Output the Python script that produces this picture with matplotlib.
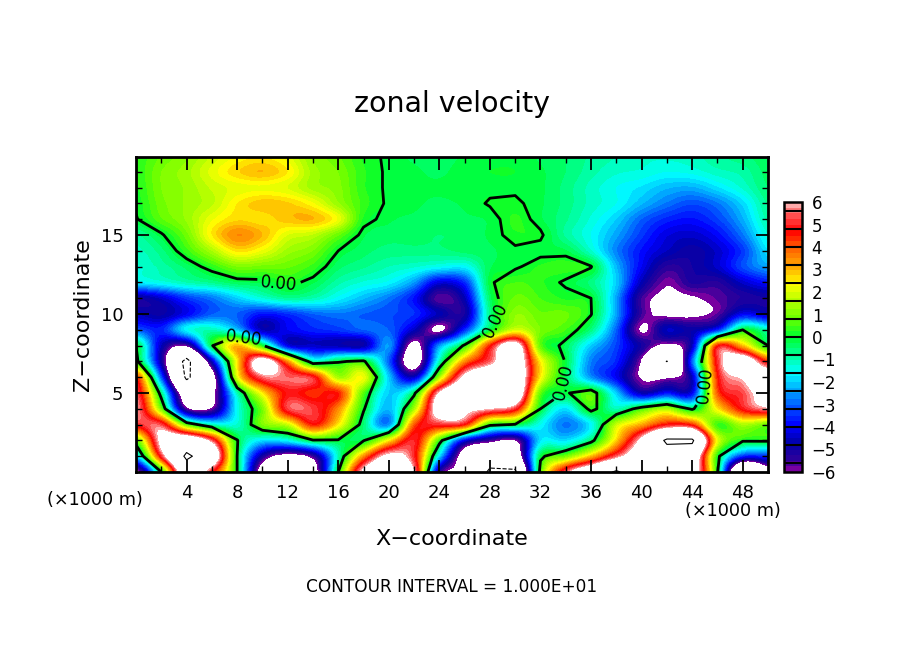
import numpy as np
import matplotlib
matplotlib.use('Agg')
import matplotlib.pyplot as plt
from matplotlib.colors import LinearSegmentedColormap, Normalize

# zonal velocity, one row per km of height (x every 2 km)
x_km = np.arange(0, 51, 2)
z_km = np.arange(0, 21, 1)

z20 = [0.3,0.8,1.2,1.8,2.3,2.5,2.1,1.2,0.8,0.2,-0.1,-0.3,-0.4,-0.2,-0.1,-0.1,-0.3,-0.5,-0.8,-1.0,-1.2,-1.2,-1.1,-0.8,-0.6,-0.3]
z19 = [0.3,1.0,1.4,2.1,2.7,3.0,2.5,1.4,1.0,0.3,-0.1,-0.2,-0.3,-0.1,0.0,0.0,-0.2,-0.5,-0.9,-1.2,-1.3,-1.5,-1.4,-1.1,-0.9,-0.4]
z18 = [0.2,1.0,1.3,1.8,2.1,2.2,2.0,1.4,1.1,0.3,-0.1,-0.2,-0.2,-0.1,-0.1,-0.1,-0.2,-0.6,-1.1,-1.5,-1.8,-2.2,-2.3,-1.8,-1.2,-0.5]
z17 = [0.1,0.9,1.3,1.7,2.5,2.9,2.8,2.3,1.3,0.4,-0.1,-0.2,-0.3,-0.2,0.05,0.1,-0.2,-0.6,-1.1,-1.5,-2.2,-2.8,-3.2,-2.8,-1.9,-0.7]
z16 = [-0.05,0.7,1.3,2.2,2.7,2.6,2.9,3.0,2.2,0.2,-0.2,-0.3,-0.4,-0.3,-0.2,0.3,-0.2,-0.7,-1.3,-2.0,-3.0,-3.6,-3.8,-3.3,-2.3,-0.9]
z15 = [-0.8,-0.1,0.9,2.5,3.5,3.0,2.0,1.7,0.8,-0.2,-0.4,-0.4,-0.5,-0.4,-0.2,0.2,0.1,-0.8,-1.5,-2.4,-3.4,-4.2,-4.4,-3.9,-2.8,-1.3]
z14 = [-1.1,-0.6,0.4,1.5,2.6,2.2,1.4,1.0,0.0,-0.4,-0.6,-0.6,-0.6,-0.4,-0.3,-0.1,-0.2,-0.2,-1.2,-2.7,-3.8,-4.5,-4.9,-4.4,-3.4,-1.8]
z13 = [-1.3,-0.9,-0.4,0.3,1.0,0.9,0.8,0.4,-0.4,-0.7,-1.0,-1.2,-1.5,-1.6,-0.3,-0.1,0.3,0.4,0.05,-2.2,-4.0,-5.3,-5.0,-4.4,-3.2,-2.4]
z12 = [-1.7,-1.4,-1.0,-0.7,-0.3,-0.2,0.2,-0.2,-0.9,-1.3,-1.6,-2.5,-4.2,-3.5,-0.1,0.5,0.3,-0.1,-0.6,-2.0,-4.6,-5.9,-5.2,-5.3,-4.4,-3.8]
z11 = [-5.0,-4.4,-3.4,-2.8,-2.0,-1.3,-0.8,-1.0,-1.6,-2.2,-2.8,-3.8,-5.7,-4.6,-0.4,0.8,0.5,0.2,0.0,-2.4,-5.5,-6.2,-6.1,-5.7,-5.2,-5.0]
z10 = [-4.5,-4.8,-4.0,-3.0,-3.0,-3.8,-3.5,-3.0,-2.8,-3.0,-3.2,-3.5,-4.6,-5.0,-0.6,1.2,0.8,0.8,0.05,-2.4,-5.5,-6.2,-6.2,-5.7,-4.0,-4.5]
z09 = [-3.0,-3.6,-1.6,-1.0,-2.0,-4.5,-4.0,-3.6,-3.4,-3.0,-3.0,-4.5,-6.2,-3.5,-0.1,2.0,1.0,0.5,-0.6,-3.0,-6.1,-4.5,-4.8,-3.5,0.0,-1.0]
z08 = [0.0,-4.5,-5.8,-0.1,3.0,0.2,-4.0,-4.4,-4.6,-4.7,-2.5,-6.5,-2.5,0.2,4.5,7.0,0.8,-0.3,-2.0,-3.3,-5.0,-6.3,-4.5,4.5,3.0,0.0]
z07 = [0.4,-4.8,-11.0,-4.5,2.5,7.0,3.5,-0.8,-0.1,0.2,-3.0,-7.0,-1.0,3.5,5.5,7.5,2.5,-0.1,-2.7,-3.6,-6.1,-10.1,-3.0,5.0,7.5,4.5]
z06 = [4.5,-3.0,-10.5,-7.0,2.0,5.5,5.5,5.0,1.5,2.2,-2.0,-4.4,1.5,6.5,8.0,8.0,2.5,-0.3,-2.5,-4.0,-6.1,-6.2,-4.5,4.5,6.2,7.5]
z05 = [5.5,-0.5,-7.5,-6.5,-1.0,2.5,4.8,4.3,4.5,0.7,-2.0,-0.3,6.2,8.0,8.0,8.0,0.8,-0.1,0.6,-2.0,-4.6,-3.8,-4.0,4.0,5.3,7.0]
z04 = [6.0,1.0,-5.6,-5.8,-1.5,1.0,5.2,5.2,3.5,0.1,-2.2,1.5,7.0,6.5,6.0,5.0,0.0,-1.8,0.3,-1.0,0.5,1.5,-0.2,2.5,4.8,5.8]
z03 = [5.0,5.3,0.8,-1.0,-1.2,1.0,1.8,4.5,2.5,-0.5,-2.5,4.0,5.0,4.6,0.3,-0.1,-1.5,-2.8,-1.6,1.8,3.2,4.8,4.5,0.5,1.5,0.9]
z02 = [0.8,6.5,8.0,5.5,0.05,-1.8,-1.5,-0.1,-0.1,-0.1,2.5,5.0,0.5,-4.0,-5.5,-6.0,-1.8,-1.8,-0.4,2.8,6.5,10.5,10.5,2.2,0.2,0.2]
z01 = [-2.0,5.0,10.6,8.0,0.0,-5.0,-6.5,-5.5,-1.0,3.5,6.5,5.0,-1.8,-7.0,-8.5,-7.5,-0.2,1.0,3.0,5.5,7.5,8.5,8.0,0.3,-3.5,-3.5]
z00 = [-6.5,0.0,8.0,5.0,0.0,-7.0,-8.0,-7.0,0.0,6.5,8.0,6.0,-5.0,-6.5,-10.5,-10.5,0.5,5.5,8.0,10.4,8.0,8.5,7.5,0.1,-10.3,-7.0]

u = np.array([z00,z01,z02,z03,z04,z05,z06,z07,z08,z09,z10,z11,z12,z13,z14,z15,z16,z17,z18,z19,z20])

level_vals = [-6,-5.6,-4.8,-4,-3.2,-2.4,-1.6,-0.8,0,0.8,1.6,2.4,3.2,4,4.8,5.6,6]
level_cols = ['#7800a0','#30009a','#0000aa','#0000ff','#0050ff','#00aaff','#00ffff','#00ff99','#00ff30',
              '#66ff00','#b0ff00','#ffff00','#ffaa00','#ff6400','#ff0000','#ff5a5a','#ffaaaa']
cb_ticks = list(range(-6, 7))
contour_labels = [(11.1,11.2),(8.5,8.35),(27.3,10.0),(33.2,5.7),(45.0,5.5)]

pos = [(v+6)/12 for v in level_vals]
cmap = LinearSegmentedColormap.from_list('ncar_like', list(zip(pos, level_cols)), N=48)
cmap.set_over('white')
cmap.set_under('white')
norm = Normalize(-6, 6)

W, H = 904, 654
fig = plt.figure(figsize=(W/100, H/100), dpi=100, facecolor='white')
ax = fig.add_axes([136/W, (H-472)/H, 632/W, 315/H])

im = ax.imshow(u, origin='lower', extent=[-1,51,-0.5,20.5], cmap=cmap, norm=norm, aspect='auto',
               interpolation='catrom', interpolation_stage='data')
cs0 = ax.contour(x_km, z_km, u, levels=[0], colors='k', linewidths=2)
ax.contour(x_km, z_km, u, levels=[-10,10], colors='k', linewidths=0.8)
ax.clabel(cs0, fmt='%.2f', fontsize=12, manual=contour_labels, inline=True, inline_spacing=3)

ax.set_xlim(0, 50)
ax.set_ylim(0, 19.94)
ax.set_xticks(np.arange(4, 50, 4))
ax.set_xticks(np.arange(2, 50, 2), minor=True)
ax.set_yticks([5, 10, 15])
ax.set_yticks(np.arange(1, 20), minor=True)
ax.tick_params(which='major', direction='in', length=9, width=1.3, top=True, right=True, labelsize=13, pad=9)
ax.tick_params(which='minor', direction='in', length=4, width=1, top=True, right=True)
for s in ax.spines.values():
    s.set_linewidth(2)

fig.text(452/W, 1-104/H, 'zonal velocity', fontsize=20.5, ha='center', va='center')
fig.text(452/W, 1-539/H, 'X\u2212coordinate', fontsize=16, ha='center', va='center')
fig.text(83/W, 1-315/H, 'Z\u2212coordinate', fontsize=16, ha='center', va='center', rotation=90)
fig.text(95/W, 1-500/H, '(\u00d71000 m)', fontsize=12.7, ha='center', va='center')
fig.text(733/W, 1-511/H, '(\u00d71000 m)', fontsize=12.7, ha='center', va='center')
fig.text(452/W, 1-587/H, 'CONTOUR INTERVAL = 1.000E+01', fontsize=12.2, ha='center', va='center')

cax = fig.add_axes([784/W, (H-472)/H, 18/W, 270/H])
cb = fig.colorbar(im, cax=cax, ticks=cb_ticks, drawedges=False)
cb.ax.tick_params(length=0, labelsize=12, pad=7)
cb.outline.set_linewidth(1.8)
cb.ax.hlines(level_vals[1:-1], 0, 1, colors='k', linewidth=1.5, transform=cb.ax.get_yaxis_transform())

fig.savefig('out.png', dpi=100)
